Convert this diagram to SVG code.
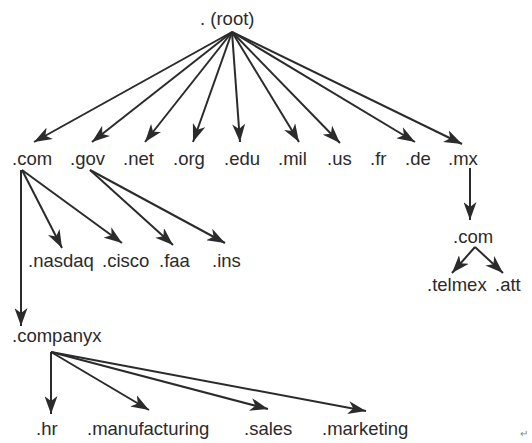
<svg xmlns="http://www.w3.org/2000/svg" width="532" height="443" viewBox="0 0 532 443">
<style>
text{font-family:"Liberation Sans",Arial,sans-serif;font-size:18.5px;fill:#2b2b2b}
.e{stroke:#2b2b2b;stroke-width:2;fill:none;marker-end:url(#ah)}
</style>
<defs>
<marker id="ah" markerUnits="userSpaceOnUse" viewBox="0 0 18 13" refX="18" refY="6.5" markerWidth="18" markerHeight="13" orient="auto">
<path d="M0,0 L18,6.5 L0,13 L5,6.5 z" fill="#2b2b2b"/>
</marker>
</defs>
<rect width="532" height="443" fill="#fff"/>
<g id="connectors">
<line class="e" x1="232" y1="32" x2="34" y2="142"/>
<line class="e" x1="232" y1="32" x2="92" y2="142"/>
<line class="e" x1="232" y1="32" x2="145" y2="142"/>
<line class="e" x1="232" y1="32" x2="193" y2="142"/>
<line class="e" x1="232" y1="32" x2="240" y2="142"/>
<line class="e" x1="232" y1="32" x2="299" y2="142"/>
<line class="e" x1="232" y1="32" x2="340" y2="143"/>
<line class="e" x1="232" y1="32" x2="415" y2="142"/>
<line class="e" x1="232" y1="32" x2="462" y2="144"/>
<line class="e" x1="22" y1="170" x2="62" y2="248"/>
<line class="e" x1="22" y1="170" x2="122" y2="243"/>
<line class="e" x1="90" y1="170" x2="173" y2="245"/>
<line class="e" x1="90" y1="170" x2="225" y2="243"/>
<line class="e" x1="21" y1="170" x2="21" y2="326"/>
<line class="e" x1="470" y1="168" x2="470" y2="220"/>
<line class="e" x1="475" y1="247" x2="452" y2="273"/>
<line class="e" x1="475" y1="247" x2="503" y2="273"/>
<line class="e" x1="51" y1="352" x2="51" y2="414"/>
<line class="e" x1="51" y1="352" x2="149" y2="410"/>
<line class="e" x1="51" y1="352" x2="268" y2="409"/>
<line class="e" x1="51" y1="352" x2="366" y2="411"/>
</g>
<g id="root"><text x="200" y="25">. (root)</text></g>
<g id="com"><text x="12" y="165">.com</text></g>
<g id="gov"><text x="70" y="165">.gov</text></g>
<g id="net"><text x="123" y="165">.net</text></g>
<g id="org"><text x="173" y="165">.org</text></g>
<g id="edu"><text x="224" y="165">.edu</text></g>
<g id="mil"><text x="278" y="165">.mil</text></g>
<g id="us"><text x="327" y="165">.us</text></g>
<g id="fr"><text x="370" y="165">.fr</text></g>
<g id="de"><text x="405" y="165">.de</text></g>
<g id="mx"><text x="448" y="165">.mx</text></g>
<g id="nasdaq"><text x="28" y="267">.nasdaq</text></g>
<g id="cisco"><text x="102" y="267">.cisco</text></g>
<g id="faa"><text x="159" y="267">.faa</text></g>
<g id="ins"><text x="212" y="267">.ins</text></g>
<g id="mxcom"><text x="453" y="243">.com</text></g>
<g id="telmex"><text x="427" y="291">.telmex</text></g>
<g id="att"><text x="495" y="291">.att</text></g>
<g id="companyx"><text x="12" y="342">.companyx</text></g>
<g id="hr"><text x="36" y="435">.hr</text></g>
<g id="manufacturing"><text x="87" y="435">.manufacturing</text></g>
<g id="sales"><text x="244" y="435">.sales</text></g>
<g id="marketing"><text x="322" y="435">.marketing</text></g>
<text x="520" y="437" style="font-size:10px;fill:#888">↵</text>
</svg>
